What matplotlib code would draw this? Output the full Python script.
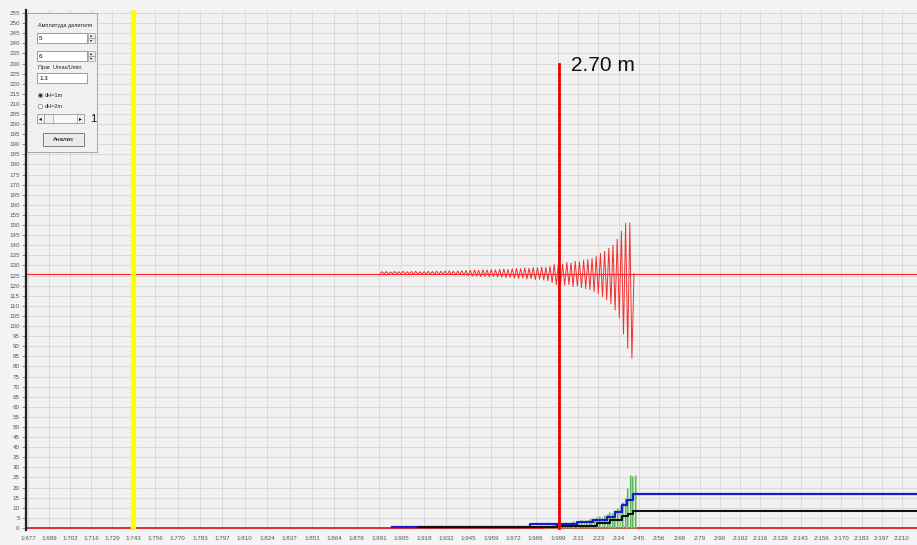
import numpy as np
import matplotlib.pyplot as plt
from matplotlib.patches import Rectangle
from matplotlib.lines import Line2D

plt.rcParams['font.family'] = ['Liberation Sans', 'DejaVu Sans']

W, H = 917, 545

# x axis: sample index, tick labels as shown by the device
x_labels = ["1:677", "1:689", "1:702", "1:716", "1:729", "1:743", "1:756", "1:770",
            "1:783", "1:797", "1:810", "1:824", "1:837", "1:851", "1:864", "1:878",
            "1:891", "1:905", "1:918", "1:932", "1:945", "1:959", "1:972", "1:986",
            "1:999", "2:11", "2:23", "2:34", "2:45", "2:56", "2:68", "2:79", "2:90",
            "2:102", "2:116", "2:129", "2:143", "2:156", "2:170", "2:183", "2:197",
            "2:210"]
x_ticks = np.concatenate([np.linspace(2, 107, 6),
                          np.linspace(107, 532, 20)[1:],
                          np.linspace(532, 876, 18)[1:]])
x_max = 891

yellow_x = 107          # cursor
marker_x = 533          # depth marker
marker_top = 230
marker_text = "2.70 m"
threshold = 126         # red horizontal level

# red signal: (high, low) per cycle
osc_start, osc_end = 354, 608
osc_hi = [126.9, 127.0, 126.8, 127.0, 126.9, 127.1, 126.9, 127.0, 127.1, 126.9,
          127.0, 127.1, 127.0, 127.2, 127.1, 127.2, 127.3, 127.2, 127.3, 127.4,
          127.5, 127.6, 127.8, 127.6, 127.9, 127.8, 128.0, 127.9, 128.1, 128.2,
          128.0, 128.3, 128.5, 128.4, 128.8, 128.6, 129.0, 128.8, 129.2, 129.0,
          129.5, 130.5, 131.0, 130.6, 131.5, 131.2, 132.0, 131.8, 132.6, 133.0,
          133.5, 134.5, 136.0, 137.0, 138.5, 140.0, 143.0, 147.0, 151.0, 151.0]
osc_lo = [125.9, 125.7, 125.9, 125.8, 125.7, 125.9, 125.8, 125.7, 125.8, 125.6,
          125.7, 125.6, 125.7, 125.5, 125.6, 125.4, 125.5, 125.3, 125.4, 125.2,
          124.9, 124.7, 124.8, 124.5, 124.6, 124.4, 124.5, 124.3, 124.2, 124.0,
          124.1, 123.8, 123.6, 123.8, 123.3, 123.5, 123.0, 123.2, 122.8, 122.5,
          121.5, 120.5, 121.0, 120.2, 120.5, 119.6, 119.8, 119.0, 118.5, 118.0,
          117.0, 116.0, 114.5, 113.0, 111.0, 108.0, 104.0, 96.0, 89.0, 84.0]

# green amplitude spikes
green_start, green_end = 519, 609
green_h = [1.0, 1.5, 1.0, 2.0, 1.5, 2.0, 2.5, 2.0, 3.0, 2.5, 3.0, 3.5, 3.0, 3.5,
           4.0, 3.5, 4.0, 4.5, 5.0, 4.5, 5.5, 6.0, 5.5, 6.5, 7.0, 8.0, 7.5, 9.0,
           10.0, 11.0, 13.0, 15.0, 20.0, 26.0, 25.5, 26.0]

# blue and black step series
blue_x = [366, 392, 504, 551, 567, 581, 589, 596, 601, 607, 891]
blue_y = [0.6, 0.6, 1.8, 2.8, 4.0, 5.6, 8.0, 11.4, 13.9, 16.8, 16.8]
black_x = [392, 531, 571, 584, 596, 602, 607, 891]
black_y = [0.6, 1.2, 2.5, 4.0, 6.0, 7.0, 8.6, 8.6]
base_red = 0.2

fig = plt.figure(figsize=(W / 100, H / 100), dpi=100)
fig.patch.set_facecolor('#f4f4f4')
ax = fig.add_axes([26 / W, 15 / H, (W - 26) / W, 520 / H])
ax.set_facecolor('#f1f1f1')
ax.set_xlim(0, x_max)
ax.set_ylim(-1, 256.5)

ax.set_yticks(np.arange(0, 256, 5))
ax.set_yticklabels([str(v) for v in range(0, 256, 5)])
ax.set_xticks(x_ticks)
ax.set_xticklabels(x_labels)
ax.tick_params(axis='y', labelsize=4.5, labelcolor='#555555', length=3,
               width=0.5, color='#666666', pad=1.5)
ax.tick_params(axis='x', labelsize=4.5, labelcolor='#555555', length=0, pad=4)
ax.grid(True, color='#d6d6d6', lw=0.6)
ax.set_axisbelow(True)
for s in ['top', 'right', 'bottom']:
    ax.spines[s].set_visible(False)
ax.spines['left'].set_linewidth(1.6)
ax.spines['left'].set_color('#222222')

ax.axvline(yellow_x, color='#ffff00', lw=3.8, zorder=3)
ax.axhline(threshold, color='#ff2020', lw=0.8, zorder=2)
ax.axhline(base_red, color='#e01010', lw=1.2, zorder=2)

# oscillation
sig = [threshold]
for h, l in zip(osc_hi, osc_lo):
    sig += [h, l]
sig.append(threshold)
sig_x = np.linspace(osc_start, osc_end, len(sig))
ax.plot(sig_x, sig, color='#f03030', lw=0.7, zorder=3)

gx = np.linspace(green_start, green_end, len(green_h))
ax.vlines(gx, 0, green_h, color='#5cb85c', lw=0.9, zorder=3)
ax.vlines(gx + 0.9, 0, green_h, color='#8fcf8f', lw=0.6, zorder=3)

ax.step(blue_x, blue_y, where='post', color='#1a1ad0', lw=1.6, zorder=4)
ax.step(black_x, black_y, where='post', color='#111111', lw=1.5, zorder=5)

ax.plot([marker_x, marker_x], [0, marker_top], color='#ee0000', lw=2.0, zorder=6)
ax.text(marker_x + 12, marker_top - 1, marker_text, fontsize=15, va='center',
        ha='left', color='#111111')


# control panel (pixel coordinates from top-left)
def fr(x0, y0, x1, y1, **kw):
    fig.patches.append(Rectangle((x0 / W, 1 - y1 / H), (x1 - x0) / W, (y1 - y0) / H,
                                 transform=fig.transFigure, **kw))


def ft(x, y, s, **kw):
    fig.text(x / W, 1 - y / H, s, **kw)


fr(27, 13, 97, 152, facecolor='#f0f0f0', edgecolor='#9a9a9a', lw=0.6, zorder=5)
ft(38, 25, "Амплитуда делителя", fontsize=4, va='center', color='#222222', zorder=6)
for y0, val in [(33, "5"), (51, "6")]:
    fr(37, y0, 87, y0 + 10, facecolor='white', edgecolor='#7a7a7a', lw=0.5, zorder=6)
    ft(39, y0 + 5, val, fontsize=4.5, va='center', zorder=7)
    fr(88, y0, 95, y0 + 5, facecolor='#ececec', edgecolor='#8a8a8a', lw=0.4, zorder=6)
    fr(88, y0 + 5, 95, y0 + 10, facecolor='#ececec', edgecolor='#8a8a8a', lw=0.4, zorder=6)
    ft(91.5, y0 + 2.5, "▴", fontsize=3, ha='center', va='center', zorder=7)
    ft(91.5, y0 + 7.5, "▾", fontsize=3, ha='center', va='center', zorder=7)
ft(38, 67, "Праг  Umax/Umin", fontsize=4, va='center', color='#222222', zorder=6)
fr(37, 73, 87, 83, facecolor='white', edgecolor='#7a7a7a', lw=0.5, zorder=6)
ft(39, 78, "1.3", fontsize=4.5, va='center', zorder=7)
for yy, lab, on in [(95, "dH=1m", True), (106, "dH=2m", False)]:
    fig.add_artist(Line2D([40 / W], [1 - yy / H], marker='o', ms=3.2,
                          mfc='white', mec='#808080', mew=0.5,
                          transform=fig.transFigure, zorder=7))
    if on:
        fig.add_artist(Line2D([40 / W], [1 - yy / H], marker='o', ms=1.2,
                              mfc='#222222', mec='#222222',
                              transform=fig.transFigure, zorder=8))
    ft(45, yy, lab, fontsize=4, va='center', color='#222222', zorder=7)
fr(37, 114, 84, 123, facecolor='#f8f8f8', edgecolor='#8a8a8a', lw=0.5, zorder=6)
fr(37, 114, 44, 123, facecolor='#f0f0f0', edgecolor='#8a8a8a', lw=0.4, zorder=7)
fr(77, 114, 84, 123, facecolor='#f0f0f0', edgecolor='#8a8a8a', lw=0.4, zorder=7)
fr(44, 114, 53, 123, facecolor='#f0f0f0', edgecolor='#8a8a8a', lw=0.4, zorder=7)
ft(40.5, 118.5, "◂", fontsize=4, ha='center', va='center', zorder=8)
ft(80.5, 118.5, "▸", fontsize=4, ha='center', va='center', zorder=8)
ft(90, 119, "1", fontsize=8, va='center', color='#111111', zorder=7)
fr(43, 133, 84, 146, facecolor='#ebebeb', edgecolor='#6a6a6a', lw=0.6, zorder=6)
ft(63.5, 139.5, "Анализ", fontsize=4.5, ha='center', va='center', zorder=7)

fig.savefig('out.png', dpi=100, facecolor=fig.get_facecolor())
